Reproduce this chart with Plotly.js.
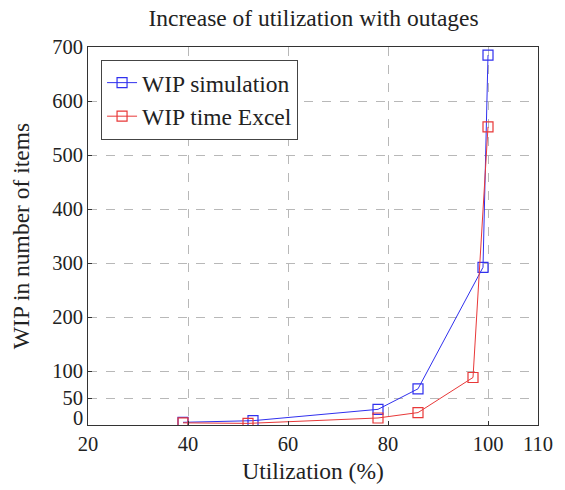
<!DOCTYPE html>
<html>
<head>
<meta charset="utf-8">
<script src="https://cdn.plot.ly/plotly-3.0.1.min.js"></script>
<style>html,body{margin:0;padding:0;background:#fff;}#chart{width:565px;height:490px;}</style>
</head>
<body>
<div id="chart"></div>
<script>
const simX = [39, 53, 78, 86, 99, 100];
const simY = [5, 8, 29, 67, 292, 685];
const excelX = [39, 52, 78, 86, 97, 100];
const excelY = [4, 3, 13, 23, 88, 552];
const xTicks = [20, 40, 60, 80, 100, 110];
const yTicks = [0, 50, 100, 200, 300, 400, 500, 600, 700];

const FONT = "Liberation Serif, DejaVu Serif, serif";
const WORD = 23.5;
const TICK = 20.5;

const traces = [
  {
    x: simX, y: simY, name: 'WIP simulation', type: 'scatter', mode: 'lines+markers',
    line: {color: '#3030ee', width: 1},
    marker: {symbol: 'square-open', size: 10, color: '#3030ee', line: {width: 1.2}}
  },
  {
    x: excelX, y: excelY, name: 'WIP time Excel', type: 'scatter', mode: 'lines+markers',
    line: {color: '#e83838', width: 1},
    marker: {symbol: 'square-open', size: 10, color: '#e83838', line: {width: 1.2}}
  }
];

// pgfplots lifts the "0" label of the y axis so it clears the "20" of the x axis
const yTickText = yTicks.map((v, i) => i === 0 ? '' : String(v));

const layout = {
  width: 565, height: 490,
  margin: {l: 88, r: 27, t: 47, b: 65},
  paper_bgcolor: '#fff', plot_bgcolor: '#fff',
  font: {family: FONT, color: '#222', size: TICK},
  title: {text: 'Increase of utilization with outages', font: {family: FONT, size: WORD, color: '#222'}, x: 0.555, xanchor: 'center', y: 0.963, yanchor: 'middle'},
  showlegend: true,
  legend: {x: 0.029, y: 0.966, xanchor: 'left', yanchor: 'top', bgcolor: '#fff', bordercolor: '#444', borderwidth: 1, itemwidth: 30, font: {family: FONT, size: WORD, color: '#222'}, tracegroupgap: 0},
  annotations: [{
    text: String(yTicks[0]), xref: 'paper', x: 0, xanchor: 'right', xshift: -4,
    yref: 'y', y: yTicks[0], yanchor: 'middle', yshift: 7, showarrow: false, borderpad: 0,
    font: {family: FONT, size: TICK, color: '#222'}
  }],
  xaxis: {
    range: [20, 110], tickvals: xTicks, ticktext: xTicks.map(String),
    showgrid: true, gridcolor: '#b8b8b8', griddash: 'dash', gridwidth: 1,
    zeroline: false, showline: true, linecolor: '#333', linewidth: 1, mirror: true,
    ticks: 'inside', ticklen: 4, tickcolor: '#333',
    tickfont: {family: FONT, size: TICK, color: '#222'},
    title: {text: 'Utilization (%)', font: {family: FONT, size: WORD, color: '#222'}, standoff: 8}
  },
  yaxis: {
    range: [0, 700], tickvals: yTicks, ticktext: yTickText,
    showgrid: true, gridcolor: '#b8b8b8', griddash: 'dash', gridwidth: 1,
    zeroline: false, showline: true, linecolor: '#333', linewidth: 1, mirror: true,
    ticks: 'inside', ticklen: 4, tickcolor: '#333',
    tickfont: {family: FONT, size: TICK, color: '#222'},
    title: {text: 'WIP in number of items\u00a0\u00a0\u00a0', font: {family: FONT, size: WORD, color: '#222'}, standoff: 15}
  }
};

Plotly.newPlot('chart', traces, layout, {displayModeBar: false, staticPlot: true});
</script>
</body>
</html>
